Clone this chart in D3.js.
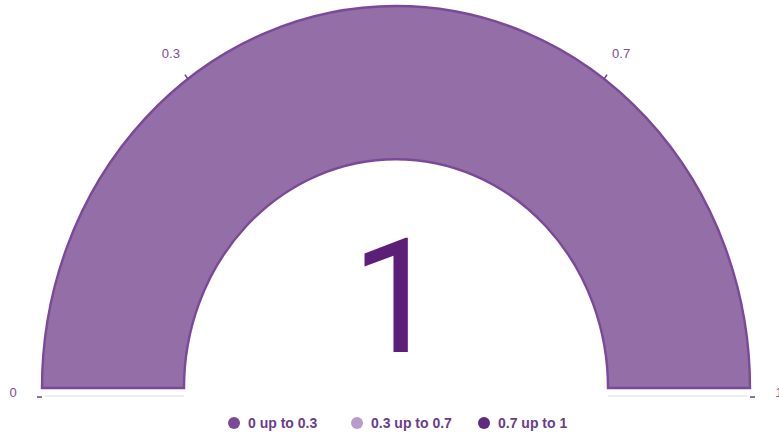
<!DOCTYPE html>
<html>
<head>
<meta charset="utf-8">
<script src="https://cdn.jsdelivr.net/npm/d3@7"></script>
<style>
  body { margin: 0; background: #fff; }
  svg { display: block; font-family: "Liberation Sans", Arial, sans-serif; }
</style>
</head>
<body>
<svg id="chart" width="779" height="433"></svg>
<script>
// gauge data
const value = 1;
const tickValues = [0, 0.3, 0.7, 1];
const tickLabels = ["0", "0.3", "0.7", "1"];
const bandStarts = [0, 0.3, 0.7];
const bandEnds = [0.3, 0.7, 1];
const bandLabels = ["0 up to 0.3", "0.3 up to 0.7", "0.7 up to 1"];
const bandColors = ["#7b4b99", "#b99bcb", "#5f2a7f"];

const width = 779, height = 433;
const cx = 396, cy = 388;
const outerR = 354, innerR = 212;
const stretch = 1.079; // picture is a bit taller than wide

const svg = d3.select("#chart");

const angle = d3.scaleLinear().domain([0, 1]).range([-Math.PI / 2, Math.PI / 2]);

const gauge = svg.append("g")
    .attr("transform", `translate(${cx},${cy}) scale(1,${stretch})`);

const arc = d3.arc().innerRadius(innerR).outerRadius(outerR);

// the value arc
gauge.append("path")
    .attr("d", arc({ startAngle: angle(0), endAngle: angle(value) }))
    .attr("fill", "#936ea7")
    .attr("stroke", "#7a4a98")
    .attr("stroke-width", 2.4)
    .attr("vector-effect", "non-scaling-stroke");

// faint line under the feet of the arc
[[-outerR + 3, -innerR], [innerR, outerR - 3]].forEach(function (d) {
    svg.append("line")
        .attr("x1", cx + d[0]).attr("x2", cx + d[1])
        .attr("y1", cy + 8).attr("y2", cy + 8)
        .attr("stroke", "#ebe4ef")
        .attr("stroke-width", 1.5);
});

// ticks and labels
const axis = svg.append("g").attr("transform", `translate(${cx},${cy})`);

tickValues.forEach(function (v, i) {
    const a = angle(v);
    const sx = Math.sin(a), sy = -Math.cos(a) * stretch;
    const edge = (v === 0 || v === 1);
    const r0 = outerR, r1 = outerR + 5;
    axis.append("line")
        .attr("x1", sx * r0).attr("y1", sy * r0 + (edge ? 9 : 0))
        .attr("x2", sx * r1).attr("y2", sy * r1 + (edge ? 9 : 0))
        .attr("stroke", "#6e3f8e")
        .attr("stroke-width", 1.5);
    const rl = outerR + 29;
    axis.append("text")
        .attr("x", sx * rl)
        .attr("y", sy * rl + (edge ? 4 : 0))
        .attr("text-anchor", "middle")
        .attr("dominant-baseline", "central")
        .attr("font-size", 13)
        .attr("fill", "#7b4b99")
        .text(tickLabels[i]);
});

// big value in the middle
svg.append("text")
    .attr("x", cx)
    .attr("y", 352)
    .attr("text-anchor", "middle")
    .attr("font-family", "Roboto, 'Noto Sans', sans-serif")
    .attr("font-size", 159)
    .attr("fill", "#5c1f78")
    .text(d3.format("~g")(value));

// legend
const legendX = d3.scaleOrdinal().domain(bandLabels).range([234, 357, 484]);

const legend = svg.append("g").attr("class", "legend")
    .selectAll("g")
    .data(bandLabels)
    .join("g")
    .attr("transform", d => `translate(${legendX(d)},423)`);

legend.append("circle")
    .attr("r", 6)
    .attr("fill", (d, i) => bandColors[i]);

legend.append("text")
    .attr("x", 14)
    .attr("dominant-baseline", "central")
    .attr("font-size", 14)
    .attr("font-weight", "bold")
    .attr("fill", "#6a3d8a")
    .text(d => d);
</script>
</body>
</html>
